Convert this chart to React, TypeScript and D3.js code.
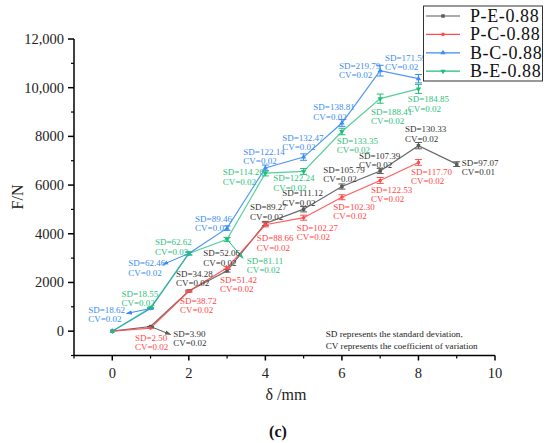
import * as d3 from "d3";

// displacement steps (mm)
const STEPS = [0, 1, 2, 3, 4, 5, 6, 7, 8, 9];

// mean force (N) per series
const PE_F = [0, 190, 1650, 2480, 4420, 5010, 5940, 6580, 7620, 6860];
const PC_F = [0, 125, 1640, 2600, 4370, 4660, 5500, 6190, 6930];
const BC_F = [0, 930, 3190, 4230, 6700, 7150, 8550, 10700, 10370];
const BE_F = [0, 960, 3190, 3770, 6490, 6560, 8200, 9550, 9950];

// standard deviations
const PE_SD = [0, 3.9, 34.28, 52.06, 89.27, 111.12, 105.79, 107.39, 130.33, 97.07];
const PC_SD = [0, 2.5, 38.72, 51.42, 88.66, 102.27, 102.3, 122.53, 117.7];
const BC_SD = [0, 18.62, 62.46, 89.46, 122.14, 132.47, 138.81, 219.79, 171.59];
const BE_SD = [0, 18.55, 62.62, 81.11, 114.26, 122.24, 133.35, 188.41, 184.85];

// coefficients of variation
const PE_CV = [0, 0.02, 0.02, 0.02, 0.02, 0.02, 0.02, 0.02, 0.02, 0.01];
const PC_CV = [0, 0.02, 0.02, 0.02, 0.02, 0.02, 0.02, 0.02, 0.02];
const BC_CV = [0, 0.02, 0.02, 0.02, 0.02, 0.02, 0.02, 0.02, 0.02];
const BE_CV = [0, 0.02, 0.03, 0.02, 0.02, 0.02, 0.02, 0.02, 0.02];

const SERIES_NAMES = ["P-E-0.88", "P-C-0.88", "B-C-0.88", "B-E-0.88"];

const X_TICKS = [0, 2, 4, 6, 8, 10];
const Y_TICKS = [0, 2000, 4000, 6000, 8000, 10000, 12000];
const Y_TICK_LABELS = ["0", "2000", "4000", "6000", "8000", "10,000", "12,000"];

const NOTE_LINES = [
  "SD represents the standard deviation,",
  "CV represents the coefficient of variation",
];

// label placement, pixel offsets from the point (index 0 has no label)
const PE_LBL: [number, number][] = [[0, 0], [22.7, 7.5], [-12.8, -17], [-23.8, -17.5], [-15.4, -16.3], [-21.4, -15.9], [-18.6, -16.6], [-21.2, -15.3], [-13.5, -16.4], [5, -1.5]];
const PC_LBL: [number, number][] = [[0, 0], [-15.6, 9.4], [-8.8, 9.7], [-7, 12], [-8.7, 13.5], [-7, 10], [-8.6, 9.4], [-9.2, 9.5], [-7.5, 9.2]];
const BC_LBL: [number, number][] = [[0, 0], [-62.3, 1.4], [-60.5, 9.8], [-32, -9.2], [-22, -16.4], [-21.4, -19.4], [-28.6, -15.7], [-41.2, -5], [-33.5, -21]];
const BE_LBL: [number, number][] = [[0, 0], [-29, -13.8], [-33.8, -11.2], [19.6, 21.6], [-42.7, -0.9], [-30.4, 6.8], [-5.2, 9.4], [-9.2, 13], [-10.8, 10.4]];

// leader arrows: [series, index, dx, dy] of arrow tip from point
const ARROWS: [number, number, number, number][] = [
  [0, 1, 20, 8],
  [2, 1, -24, 5],
  [2, 2, -26, 11],
  [3, 3, 16, 19],
];

const LINE_COLORS = ["#595959", "#ff4d4d", "#3a8cf5", "#1fbf7a"];
const TEXT_COLORS = ["#333333", "#ff4747", "#3b8ef0", "#2ec27a"];

const W = 550;
const H = 443;

export default function App() {
  const x = d3.scaleLinear().domain([-1, 10]).range([74, 495]);
  const y = d3.scaleLinear().domain([-1000, 12000]).range([355.5, 39]);

  const series = [
    { f: PE_F, sd: PE_SD, cv: PE_CV, lbl: PE_LBL, sym: d3.symbolSquare },
    { f: PC_F, sd: PC_SD, cv: PC_CV, lbl: PC_LBL, sym: d3.symbolCircle },
    { f: BC_F, sd: BC_SD, cv: BC_CV, lbl: BC_LBL, sym: d3.symbolTriangle },
    { f: BE_F, sd: BE_SD, cv: BE_CV, lbl: BE_LBL, sym: d3.symbolTriangle },
  ];

  const line = d3
    .line<number>()
    .x((_, i) => x(STEPS[i]))
    .y((d) => y(d));

  const sym = (s: d3.SymbolType, size: number) => d3.symbol().type(s).size(size)() ?? "";

  const xMinor = d3.range(-1, 10, 2);
  const yMinor = d3.range(-1000, 12000, 2000);
  const labelFont = "'Liberation Serif', 'DejaVu Serif', serif";

  return (
    <svg
      width={W}
      height={H}
      style={{ position: "absolute", left: 0, top: 0, background: "#fff" }}
      fontFamily={labelFont}
    >
      <defs>
        {LINE_COLORS.map((c, i) => (
          <marker
            key={i}
            id={`arr${i}`}
            viewBox="0 0 10 10"
            refX="9"
            refY="5"
            markerWidth="6"
            markerHeight="6"
            orient="auto"
          >
            <path d="M0,1.5 L10,5 L0,8.5 Z" fill={c} />
          </marker>
        ))}
      </defs>

      {/* axes */}
      <g stroke="#000" strokeWidth={1.5} fill="none">
        <line x1={x(-1)} x2={x(10)} y1={y(-1000)} y2={y(-1000)} />
        <line x1={x(-1)} x2={x(-1)} y1={y(-1000)} y2={y(12000)} />
        {X_TICKS.map((t) => (
          <line key={t} x1={x(t)} x2={x(t)} y1={y(-1000)} y2={y(-1000) + 5} />
        ))}
        {xMinor.map((t) => (
          <line key={t} x1={x(t)} x2={x(t)} y1={y(-1000)} y2={y(-1000) + 3} strokeWidth={1.2} />
        ))}
        {Y_TICKS.map((t) => (
          <line key={t} x1={x(-1) - 6} x2={x(-1)} y1={y(t)} y2={y(t)} />
        ))}
        {yMinor.map((t) => (
          <line key={t} x1={x(-1) - 3} x2={x(-1)} y1={y(t)} y2={y(t)} strokeWidth={1.2} />
        ))}
      </g>
      <g fontSize={14.5} fill="#222">
        {X_TICKS.map((t) => (
          <text key={t} x={x(t)} y={y(-1000) + 22} textAnchor="middle">
            {t}
          </text>
        ))}
        {Y_TICKS.map((t, i) => (
          <text key={t} x={x(-1) - 10} y={y(t) + 5} textAnchor="end">
            {Y_TICK_LABELS[i]}
          </text>
        ))}
      </g>
      <text x={286} y={400} fontSize={16} textAnchor="middle" fill="#222">
        δ /mm
      </text>
      <text
        transform={`translate(23,197) rotate(-90)`}
        fontSize={16}
        textAnchor="middle"
        fill="#222"
      >
        F/N
      </text>
      <text x={278} y={437} fontSize={16} fontWeight="bold" textAnchor="middle" fill="#111">
        (c)
      </text>

      {/* lines */}
      {series.map((s, k) => (
        <path
          key={k}
          d={line(s.f) ?? ""}
          fill="none"
          stroke={LINE_COLORS[k]}
          strokeWidth={1.2}
          strokeOpacity={k === 3 ? 0.75 : 0.9}
        />
      ))}

      {/* error bars + markers */}
      {series.map((s, k) => (
        <g key={k} stroke={LINE_COLORS[k]} strokeWidth={1}>
          {s.f.map((v, i) => {
            const cx = x(STEPS[i]);
            const top = y(v + s.sd[i]);
            const bot = y(v - s.sd[i]);
            return (
              <g key={i}>
                {s.sd[i] > 0 && (
                  <>
                    <line x1={cx} x2={cx} y1={top} y2={bot} />
                    <line x1={cx - 3.5} x2={cx + 3.5} y1={top} y2={top} />
                    <line x1={cx - 3.5} x2={cx + 3.5} y1={bot} y2={bot} />
                  </>
                )}
                <path
                  d={sym(s.sym, k === 1 ? 10 : 12)}
                  transform={`translate(${cx},${y(v)})${k === 3 ? " rotate(180)" : ""}`}
                  fill={LINE_COLORS[k]}
                  stroke="none"
                />
              </g>
            );
          })}
        </g>
      ))}

      {/* leader arrows */}
      {ARROWS.map(([k, i, dx, dy], n) => {
        const px = x(STEPS[i]);
        const py = y(series[k].f[i]);
        return (
          <line
            key={n}
            x1={px}
            y1={py}
            x2={px + dx}
            y2={py + dy}
            stroke={LINE_COLORS[k]}
            strokeWidth={1}
            markerEnd={`url(#arr${k})`}
          />
        );
      })}

      {/* SD / CV labels */}
      {series.map((s, k) => (
        <g key={k} fontSize={9} fill={TEXT_COLORS[k]}>
          {s.f.map((v, i) => {
            if (i === 0) return null;
            const lx = x(STEPS[i]) + s.lbl[i][0];
            const ly = y(v) + s.lbl[i][1];
            return (
              <g key={i}>
                <text x={lx} y={ly + 3}>{`SD=${s.sd[i].toFixed(2)}`}</text>
                <text x={lx} y={ly + 12.3}>{`CV=${s.cv[i].toFixed(2)}`}</text>
              </g>
            );
          })}
        </g>
      ))}

      {/* note */}
      <g fontSize={9.2} fill="#222">
        {NOTE_LINES.map((t, i) => (
          <text key={i} x={325.7} y={336.5 + i * 12.4}>
            {t}
          </text>
        ))}
      </g>

      {/* legend */}
      <g>
        <rect x={423.5} y={6} width={119} height={75} fill="#fff" stroke="#333" strokeWidth={1} />
        {SERIES_NAMES.map((name, k) => {
          const ly = 16 + k * 18.4;
          return (
            <g key={name}>
              <line x1={426} x2={460} y1={ly} y2={ly} stroke={LINE_COLORS[k]} strokeWidth={1.2} />
              <path
                d={sym(series[k].sym, k === 1 ? 10 : 12)}
                transform={`translate(443,${ly})${k === 3 ? " rotate(180)" : ""}`}
                fill={LINE_COLORS[k]}
              />
              <text x={470} y={ly + 6} fontSize={18} fill="#111" letterSpacing={0.6}>
                {name}
              </text>
            </g>
          );
        })}
      </g>
    </svg>
  );
}
